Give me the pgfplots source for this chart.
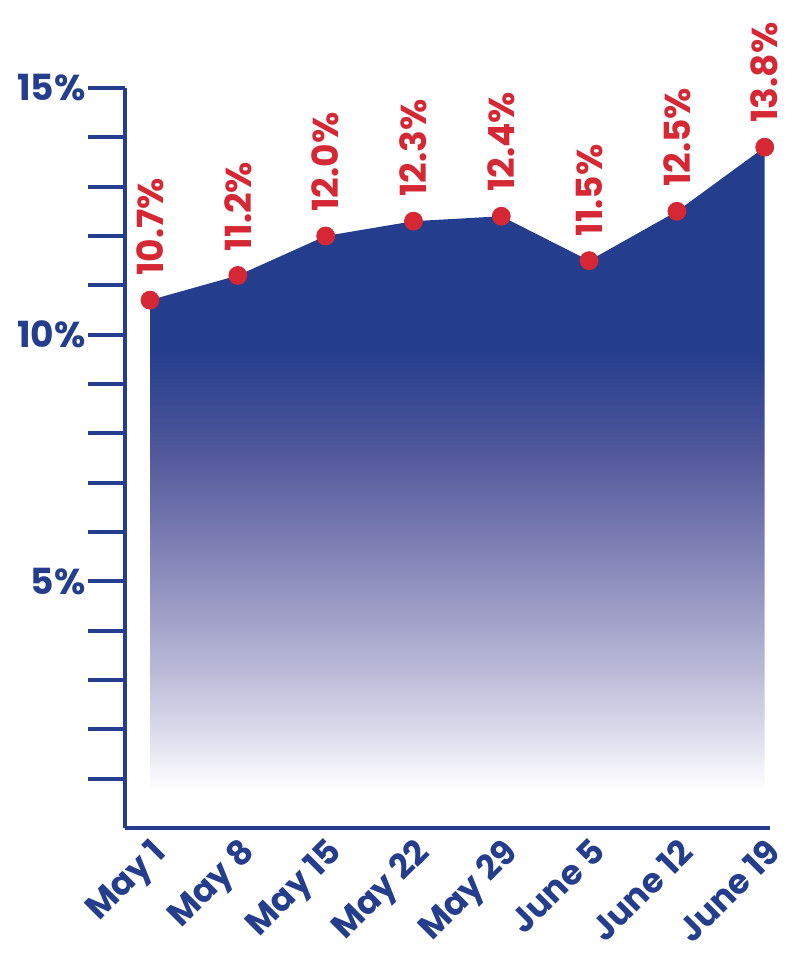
\documentclass[border=0pt]{standalone}
\usepackage{fontspec}
\setmainfont{Poppins}
\usepackage{pgfplots}
\pgfplotsset{compat=1.18}
\definecolor{cBlue}{RGB}{36,61,140}
\definecolor{cRed}{RGB}{213,40,52}
\definecolor{gA}{RGB}{80,87,154}
\definecolor{gB}{RGB}{134,134,184}
\definecolor{gC}{RGB}{184,184,214}
\definecolor{gD}{RGB}{220,220,236}
\pgfdeclareverticalshading{areafade}{100bp}{color(0bp)=(white); color(25bp)=(white); color(29.4bp)=(gD); color(34.6bp)=(gC); color(42.9bp)=(gB); color(51.4bp)=(gA); color(59.3bp)=(cBlue); color(100bp)=(cBlue)}
\begin{document}
\begin{tikzpicture}
\begin{axis}[name=ax, scale only axis, width=322.5pt, height=370pt,
  xmin=-0.285, xmax=7.06, ymin=0, ymax=15,
  axis x line*=bottom, axis y line*=left,
  axis line style={-, line width=2pt, cBlue},
  xtick={0,...,7},
  xticklabels={May 1, May 8, May 15, May 22, May 29, June 5, June 12, June 19},
  xtick style={draw=none},
  xticklabel shift={-16pt},
  xticklabel style={rotate=45, anchor=north east, inner sep=1pt, font=\bfseries\fontsize{17}{19}\selectfont, text=cBlue},
  ytick={1,...,15},
  yticklabels={,,,,5\%,,,,,10\%,,,,,15\%},
  tick align=outside, major tick length=18.5pt,
  ytick style={line width=2pt, cBlue},
  yticklabel style={font=\bfseries\fontsize{18}{20}\selectfont, text=cBlue, inner sep=1pt},
  clip=false,
]
% shaded area under the line
\addplot[draw=none, shade, shading=areafade]
  coordinates {(0,0.77) (0,10.7) (1,11.2) (2,12.0) (3,12.3) (4,12.4) (5,11.5) (6,12.5) (7,13.8) (7,0.77)};
% points with labels
\addplot[only marks, mark=*, mark size=4.5pt, color=cRed,
  point meta=explicit symbolic, nodes near coords,
  nodes near coords style={rotate=90, anchor=west, inner xsep=12pt, inner ysep=0pt,
    text=cRed, font=\bfseries\fontsize{18}{20}\selectfont}]
  coordinates {(0,10.7)[10.7\%] (1,11.2)[11.2\%] (2,12.0)[12.0\%] (3,12.3)[12.3\%]
               (4,12.4)[12.4\%] (5,11.5)[11.5\%] (6,12.5)[12.5\%] (7,13.8)[13.8\%]};
\end{axis}
\pgfresetboundingbox
\path[use as bounding box] ([xshift=-62.5pt,yshift=-74.5pt]ax.south west) rectangle ([xshift=15pt,yshift=44pt]ax.north east);
\end{tikzpicture}
\end{document}
